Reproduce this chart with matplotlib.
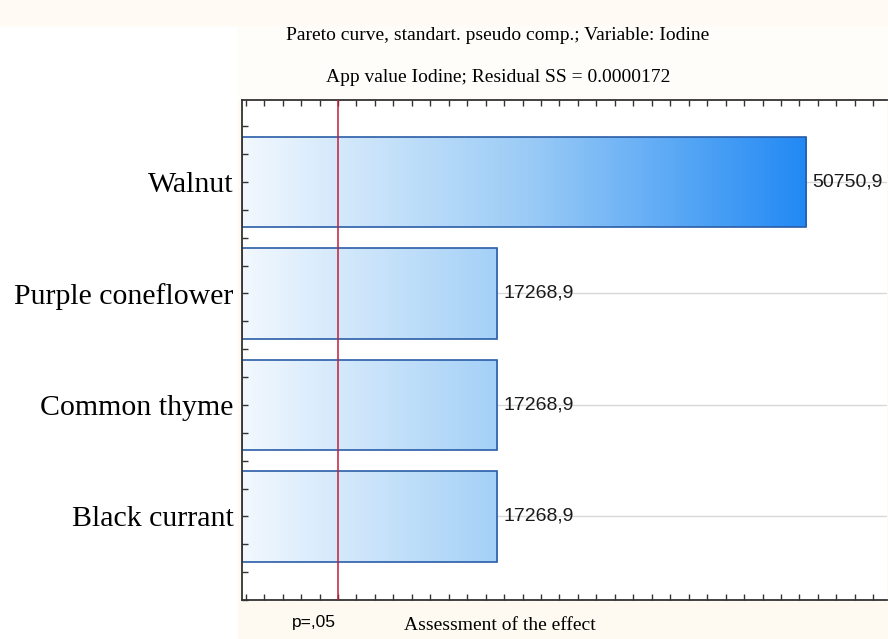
import matplotlib.pyplot as plt
import numpy as np
from matplotlib.colors import LinearSegmentedColormap
from matplotlib.patches import Rectangle
from matplotlib.ticker import MultipleLocator

# ======= DATA ==========
categories = ["Walnut", "Purple coneflower", "Common thyme", "Black currant"]
effects = [50750.9, 17268.9, 17268.9, 17268.9]
value_labels = ["50750,9", "17268,9", "17268,9", "17268,9"]
p_crit = 12.7
title1 = "Pareto curve, standart. pseudo comp.; Variable: Iodine"
title2 = "App value Iodine; Residual SS = 0.0000172"
xlabel = "Assessment of the effect"
# =======================

xmin, xmax = -10400, 59500
serif = "Liberation Serif"
sans = "Liberation Sans"

fig = plt.figure(figsize=(8.88, 6.39), dpi=100, facecolor="white")
# faint cream background behind the plot area (screenshot look)
fig.patches.append(Rectangle((238 / 888, 0), 1, 1, transform=fig.transFigure,
                             color="#FEFAF1", zorder=-10))
fig.patches.append(Rectangle((238 / 888, 1 - 100 / 639), 1, 1, transform=fig.transFigure,
                             color="#FFFDF9", zorder=-9))
fig.patches.append(Rectangle((0, 1 - 25 / 639), 1, 1, transform=fig.transFigure,
                             color="#FFFBF4", zorder=-8))

ax = fig.add_axes([0.2725, 0.061, 0.7265, 0.7825])
ax.set_facecolor("white")
ax.set_axisbelow(False)

ypos = np.arange(len(categories))
cmap = LinearSegmentedColormap.from_list("g", ["#F2F8FE", "#9ACBF6", "#1C86F4"])
grad = np.linspace(0, 1, 256).reshape(1, -1)

# grid lines behind the bars
for y in ypos:
    ax.axhline(y, color="#D8D8D8", lw=1, zorder=0)

bars = ax.barh(ypos, [e - xmin for e in effects], left=xmin, height=0.81,
               color="none", edgecolor="#2A5DA8", lw=1.2, zorder=2)
for b in bars:
    im = ax.imshow(grad, cmap=cmap, aspect="auto", extent=[xmin, 52000, -1, 4],
                   zorder=1.8, interpolation="bicubic")
    im.set_clip_path(b)

for y, e, lab in zip(ypos, effects, value_labels):
    ax.text(e + 650, y, lab, va="center", ha="left", fontsize=14,
            family=sans, color="#1A1A1A", zorder=4)

ax.axvline(p_crit, color="#C41E3A", lw=1.1, zorder=5)

ax.set_xlim(xmin, xmax)
ax.set_ylim(3.75, -0.735)
ax.set_yticks(ypos)
ax.set_yticklabels(categories, family=serif, fontsize=21.5)
ax.yaxis.set_minor_locator(MultipleLocator(0.25))
ax.xaxis.set_major_locator(MultipleLocator(2000))
ax.set_xticklabels([])
ax.tick_params(axis="both", which="both", direction="in", top=True, length=4,
               width=1, color="#333333")
ax.tick_params(axis="y", which="major", pad=6)
for s in ["left", "bottom", "top"]:
    ax.spines[s].set_linewidth(1.3)
    ax.spines[s].set_color("#333333")
ax.spines["right"].set_visible(False)

fig.text(498 / 888, 1 - 35 / 639, title1, ha="center", va="center", family=serif, fontsize=14)
fig.text(498 / 888, 1 - 77 / 639, title2, ha="center", va="center", family=serif, fontsize=14)
fig.text(314 / 888, 1 - 622 / 639, "p=,05", ha="center", va="center", family=sans, fontsize=12.5)
fig.text(500 / 888, 1 - 626 / 639, xlabel, ha="center", va="center", family=serif, fontsize=14)

plt.savefig("out.png", dpi=100, facecolor=fig.get_facecolor())
plt.close()
